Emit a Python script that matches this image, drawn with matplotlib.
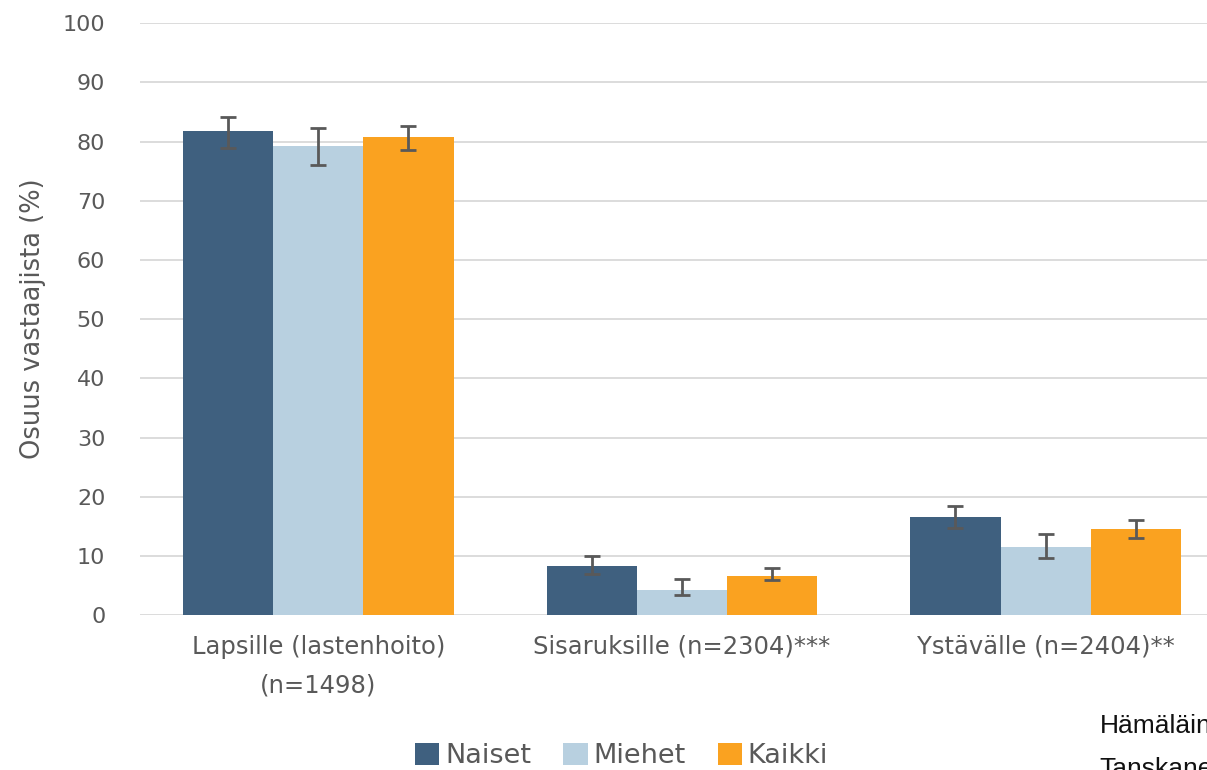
import numpy as np
import matplotlib
matplotlib.use("Agg")
import matplotlib.pyplot as plt

# data
categories = ["Lapsille (lastenhoito)\n(n=1498)", "Sisaruksille (n=2304)***", "Ystävälle (n=2404)**"]
series = ["Naiset", "Miehet", "Kaikki"]
values = {
    "Naiset": [81.7, 8.3, 16.6],
    "Miehet": [79.2, 4.3, 11.6],
    "Kaikki": [80.8, 6.7, 14.6],
}
err_low = {
    "Naiset": [78.9, 6.9, 14.7],
    "Miehet": [76.1, 3.5, 9.6],
    "Kaikki": [78.5, 5.9, 13.0],
}
err_high = {
    "Naiset": [84.2, 10.0, 18.5],
    "Miehet": [82.2, 6.1, 13.8],
    "Kaikki": [82.7, 7.9, 16.0],
}
colors = {"Naiset": "#3f607f", "Miehet": "#b8d0e0", "Kaikki": "#faa220"}

plt.rcParams["font.family"] = ["DejaVu Sans"]
text_col = "#595959"

fig = plt.figure(figsize=(12.07, 7.70), dpi=100)
ax = fig.add_axes([0.116, 0.201, 0.898, 0.769])

x = np.arange(len(categories))
w = 0.248
for i, s in enumerate(series):
    pos = x + (i - 1) * w
    v = np.array(values[s])
    lo = v - np.array(err_low[s])
    hi = np.array(err_high[s]) - v
    ax.bar(pos, v, width=w, color=colors[s], label=s, zorder=2)
    ax.errorbar(pos, v, yerr=[lo, hi], fmt="none", ecolor="#595959",
                elinewidth=2, capsize=5.5, capthick=2, zorder=3)

ax.set_xlim(-0.49, 2.49)
ax.set_ylim(0, 100)
ax.set_yticks(range(0, 101, 10))
ax.yaxis.grid(True, color="#d9d9d9", linewidth=1.3, zorder=0)
ax.set_axisbelow(True)
for sp in ax.spines.values():
    sp.set_visible(False)
ax.tick_params(axis="y", length=0, pad=25, labelsize=16, labelcolor=text_col)
ax.tick_params(axis="x", length=0, pad=14, labelsize=17.5, labelcolor=text_col)
ax.set_xticks(x)
ax.set_xticklabels(categories, linespacing=1.8)
ax.set_ylabel("Osuus vastaajista (%)", fontsize=18.5, color=text_col, labelpad=12)

fig.legend(loc="center", bbox_to_anchor=(0.515, 0.018), ncol=3, frameon=False,
           fontsize=19.5, handlelength=0.9, handleheight=0.9, handletextpad=0.2,
           columnspacing=1.2, labelcolor=text_col)

note_font = ["Liberation Sans"]
fig.text(0.911, 0.048, "Hämäläinen", fontsize=19, family=note_font, color="#111111")
fig.text(0.911, -0.008, "Tanskanen", fontsize=19, family=note_font, color="#111111")

fig.savefig("out.png", dpi=100)
